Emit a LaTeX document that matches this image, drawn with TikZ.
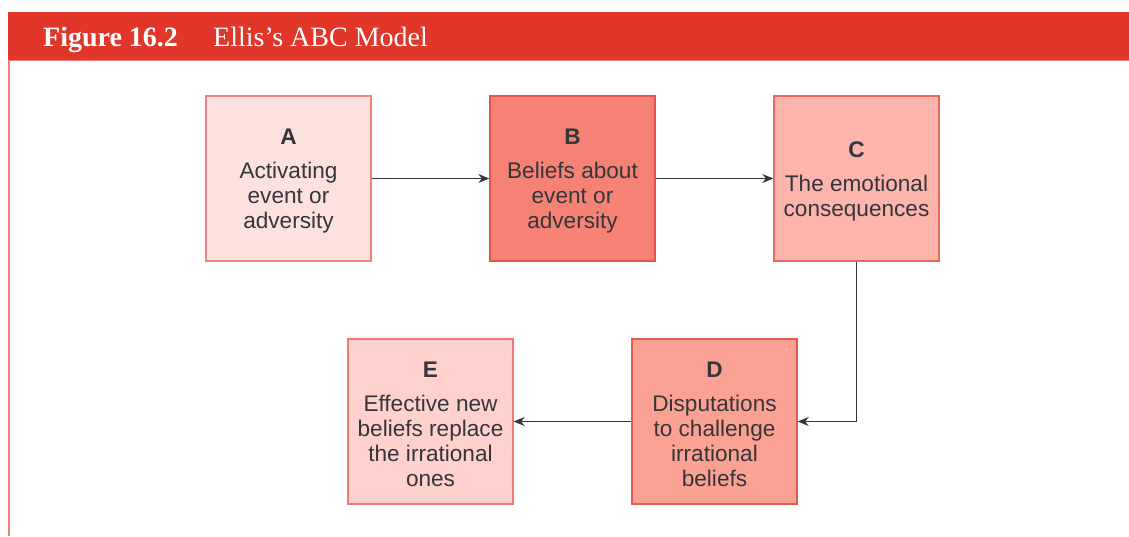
\documentclass[tikz,border=0pt]{standalone}
\usepackage{fontspec}
\setmainfont{Liberation Sans}
\newfontfamily\titlefont{Liberation Serif}
\usetikzlibrary{arrows.meta}
\definecolor{headred}{HTML}{E2362B}
\definecolor{headline}{HTML}{EE8078}
\definecolor{ink}{HTML}{33363A}
\definecolor{fillA}{HTML}{FDE1DF}
\definecolor{fillB}{HTML}{F58275}
\definecolor{fillC}{HTML}{FDB4AC}
\definecolor{fillD}{HTML}{FBA194}
\definecolor{fillE}{HTML}{FFD1CD}
\definecolor{edgeA}{HTML}{F0857F}
\definecolor{edgeB}{HTML}{E55449}
\definecolor{edgeC}{HTML}{EE675C}
\definecolor{edgeD}{HTML}{E85A4F}
\definecolor{edgeE}{HTML}{F07A73}
\tikzset{
  stagebox/.style={draw, line width=1.4pt, minimum width=165pt, minimum height=165pt,
    inner sep=0pt},
  stagetext/.style={align=center, text=ink, inner sep=0pt, yshift=-3pt,
    font=\fontsize{22.6}{25}\selectfont},
  flow/.style={draw=ink, line width=1.3pt, -{Stealth[length=11pt,width=9pt]}}
}
\begin{document}
\begin{tikzpicture}[x=1pt,y=-1pt]
\useasboundingbox (0,0) rectangle (1129,536);
% header band and left rule
\fill[white] (0,0) rectangle (1129,536);
\fill[headred] (8,12) rectangle (1129,61);
\draw[headline, line width=1.2pt] (8,60.5) -- (1129,60.5);
\draw[headline, line width=2pt] (9,61) -- (9,536);
\node[anchor=base west, text=white, inner sep=0pt, font=\titlefont\bfseries\fontsize{28}{30}\selectfont] (fignum) at (43,46) {Figure 16.2};
\node[anchor=base west, text=white, inner sep=0pt, font=\titlefont\fontsize{28}{30}\selectfont] (figtitle) at (213,46) {Ellis’s ABC Model};
% stages: box with its centred caption
\node[stagebox, fill=fillA, draw=edgeA, label={[stagetext]center:\textbf{A}\\[9pt]Activating\\event or\\adversity}] (A) at (288.5,178.5) {};
\node[stagebox, fill=fillB, draw=edgeB, label={[stagetext]center:\textbf{B}\\[9pt]Beliefs about\\event or\\adversity}] (B) at (572.5,178.5) {};
\node[stagebox, fill=fillC, draw=edgeC, label={[stagetext]center:\textbf{C}\\[9pt]The emotional\\consequences}] (C) at (856.5,178.5) {};
\node[stagebox, fill=fillD, draw=edgeD, label={[stagetext]center:\textbf{D}\\[9pt]Disputations\\to challenge\\irrational\\beliefs}] (D) at (714.5,421.5) {};
\node[stagebox, fill=fillE, draw=edgeE, label={[stagetext]center:\textbf{E}\\[9pt]Effective new\\beliefs replace\\the irrational\\ones}] (E) at (430.5,421.5) {};
% connectors
\draw[flow] (A) -- (B);
\draw[flow] (B) -- (C);
\draw[flow] (C.south) |- (D.east);
\draw[flow] (D) -- (E);
\end{tikzpicture}
\end{document}
